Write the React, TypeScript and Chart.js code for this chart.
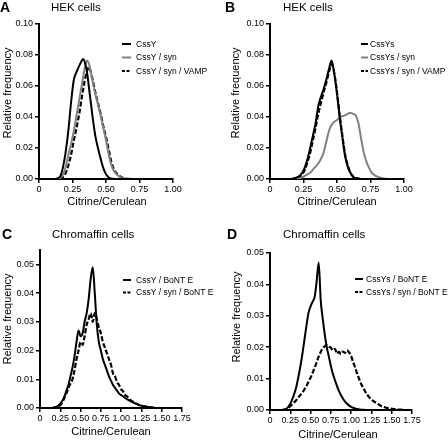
import React, { useEffect, useRef } from 'react';
import { Chart, registerables } from 'chart.js';
Chart.register(...registerables);

const REG = "'Liberation Sans', Arial, Helvetica, sans-serif";

// ---------- Panel A : HEK cells ----------
const aX = [0.10, 0.12, 0.14, 0.16, 0.18, 0.20, 0.22, 0.24, 0.26, 0.28, 0.30, 0.32, 0.33, 0.34, 0.36, 0.37, 0.38, 0.40, 0.42, 0.44, 0.46, 0.48, 0.50, 0.52, 0.54, 0.56, 0.58, 0.60, 0.62, 0.64, 0.66, 0.70];
const aCssY = [0, 0, 0.0005, 0.002, 0.008, 0.018, 0.032, 0.050, 0.064, 0.069, 0.073, 0.0765, 0.0775, 0.076, 0.068, 0.061, 0.054, 0.040, 0.028, 0.020, 0.013, 0.007, 0.003, 0.001, 0.0003, 0, 0, 0, 0, 0, 0, 0];
const aSyn = [0, 0, 0, 0.0008, 0.003, 0.008, 0.016, 0.023, 0.031, 0.041, 0.051, 0.061, 0.066, 0.071, 0.0765, 0.075, 0.072, 0.063, 0.055, 0.048, 0.041, 0.033, 0.025, 0.016, 0.009, 0.005, 0.003, 0.0015, 0.0008, 0.0003, 0, 0];
const aVamp = [0, 0, 0, 0.0003, 0.0015, 0.004, 0.009, 0.016, 0.025, 0.033, 0.042, 0.053, 0.058, 0.063, 0.070, 0.072, 0.071, 0.064, 0.056, 0.049, 0.042, 0.034, 0.027, 0.019, 0.011, 0.006, 0.0035, 0.002, 0.001, 0.0004, 0.0001, 0];

// ---------- Panel B : HEK cells ----------
const bX = [0.10, 0.12, 0.14, 0.16, 0.18, 0.20, 0.22, 0.24, 0.26, 0.28, 0.30, 0.32, 0.34, 0.36, 0.38, 0.40, 0.42, 0.44, 0.46, 0.48, 0.50, 0.52, 0.54, 0.56, 0.58, 0.60, 0.62, 0.64, 0.66, 0.68, 0.70, 0.72, 0.74, 0.76, 0.78, 0.80, 0.82, 0.84, 0.86, 0.88, 0.90];
const bCssYs = [0, 0, 0, 0, 0.0003, 0.001, 0.002, 0.004, 0.0075, 0.013, 0.020, 0.028, 0.036, 0.047, 0.053, 0.058, 0.064, 0.071, 0.0765, 0.068, 0.055, 0.040, 0.027, 0.015, 0.008, 0.004, 0.0015, 0.0005, 0.0001, 0, 0, 0, 0, 0, 0, 0, 0, 0, 0, 0, 0];
const bSyn = [0, 0, 0, 0, 0, 0, 0.0003, 0.001, 0.002, 0.003, 0.004, 0.006, 0.008, 0.010, 0.013, 0.017, 0.024, 0.031, 0.035, 0.037, 0.038, 0.040, 0.0405, 0.041, 0.042, 0.0428, 0.042, 0.041, 0.036, 0.026, 0.017, 0.011, 0.007, 0.004, 0.0025, 0.0015, 0.001, 0.0005, 0.0002, 0, 0];
const bVamp = [0, 0, 0, 0, 0.0002, 0.0007, 0.0015, 0.003, 0.006, 0.011, 0.017, 0.025, 0.033, 0.042, 0.049, 0.056, 0.062, 0.069, 0.074, 0.068, 0.056, 0.041, 0.028, 0.016, 0.009, 0.004, 0.0017, 0.0006, 0.0002, 0, 0, 0, 0, 0, 0, 0, 0, 0, 0, 0, 0];

// ---------- Panel C : Chromaffin cells ----------
const cX = [0.150, 0.175, 0.200, 0.225, 0.250, 0.275, 0.300, 0.325, 0.350, 0.375, 0.400, 0.425, 0.450, 0.475, 0.500, 0.525, 0.550, 0.575, 0.600, 0.625, 0.650, 0.675, 0.700, 0.725, 0.750, 0.775, 0.800, 0.825, 0.850, 0.875, 0.900, 0.925, 0.950, 0.975, 1.000, 1.025, 1.050, 1.075, 1.100, 1.125, 1.150, 1.175, 1.200, 1.225, 1.250, 1.275, 1.300, 1.325, 1.350, 1.375, 1.400, 1.425, 1.450];
const cCssY = [0, 0.0002, 0.0004, 0.0008, 0.0015, 0.0025, 0.004, 0.006, 0.008, 0.011, 0.014, 0.018, 0.023, 0.027, 0.025, 0.026, 0.030, 0.033, 0.038, 0.045, 0.049, 0.040, 0.029, 0.023, 0.020, 0.017, 0.015, 0.013, 0.011, 0.0095, 0.008, 0.007, 0.006, 0.005, 0.0045, 0.004, 0.0035, 0.003, 0.0026, 0.0022, 0.0019, 0.0016, 0.0013, 0.001, 0.0008, 0.0006, 0.0005, 0.0004, 0.0003, 0.0002, 0.0001, 0, 0];
const cSyn = [0, 0.0001, 0.0003, 0.0006, 0.001, 0.002, 0.0035, 0.005, 0.007, 0.0085, 0.010, 0.013, 0.017, 0.020, 0.023, 0.022, 0.025, 0.029, 0.031, 0.033, 0.030, 0.033, 0.031, 0.028, 0.026, 0.023, 0.021, 0.019, 0.017, 0.015, 0.012, 0.011, 0.009, 0.008, 0.0065, 0.0058, 0.0045, 0.004, 0.0032, 0.0025, 0.0022, 0.0016, 0.0014, 0.001, 0.0008, 0.0006, 0.0005, 0.0003, 0.0002, 0.0001, 0.0001, 0, 0];

// ---------- Panel D : Chromaffin cells ----------
const dX = [0.150, 0.175, 0.200, 0.225, 0.250, 0.275, 0.300, 0.325, 0.350, 0.375, 0.400, 0.425, 0.450, 0.475, 0.500, 0.525, 0.550, 0.575, 0.600, 0.625, 0.650, 0.675, 0.700, 0.725, 0.750, 0.775, 0.800, 0.825, 0.850, 0.875, 0.900, 0.925, 0.950, 0.975, 1.000, 1.025, 1.050, 1.075, 1.100, 1.125, 1.150, 1.175, 1.200, 1.225, 1.250, 1.275, 1.300, 1.325, 1.350, 1.375, 1.400, 1.425, 1.450, 1.475, 1.500, 1.525, 1.550, 1.575, 1.600, 1.625, 1.650];
const dCssYs = [0, 0.0001, 0.0004, 0.001, 0.002, 0.0035, 0.0052, 0.0075, 0.0105, 0.014, 0.018, 0.0225, 0.027, 0.031, 0.033, 0.0345, 0.036, 0.041, 0.047, 0.035, 0.029, 0.024, 0.020, 0.017, 0.014, 0.0115, 0.0095, 0.0077, 0.006, 0.0047, 0.0036, 0.0027, 0.002, 0.0014, 0.001, 0.0007, 0.0005, 0.0003, 0.0002, 0.0001, 0.0001, 0, 0, 0, 0, 0, 0, 0, 0, 0, 0, 0, 0, 0, 0, 0, 0, 0, 0, 0, 0];
const dSyn = [0, 0.0001, 0.0003, 0.0007, 0.0012, 0.0018, 0.0025, 0.0032, 0.004, 0.0048, 0.0056, 0.0066, 0.0077, 0.009, 0.0103, 0.0118, 0.0135, 0.0152, 0.017, 0.0185, 0.0197, 0.0203, 0.0207, 0.0202, 0.0198, 0.019, 0.0195, 0.018, 0.0185, 0.0178, 0.0186, 0.0182, 0.019, 0.0183, 0.0172, 0.0152, 0.0135, 0.0115, 0.0098, 0.0082, 0.007, 0.0058, 0.0048, 0.004, 0.0034, 0.0028, 0.0024, 0.002, 0.0016, 0.0012, 0.001, 0.0008, 0.0006, 0.0005, 0.0004, 0.0003, 0.0003, 0.0002, 0.0001, 0.0001, 0];

// ---------- ticks ----------
const xTicksHek = [0, 0.25, 0.5, 0.75, 1.0];
const yTicksHek = [0, 0.02, 0.04, 0.06, 0.08, 0.10];
const xTicksChr = [0, 0.25, 0.5, 0.75, 1.0, 1.25, 1.5, 1.75];
const yTicksChr = [0, 0.01, 0.02, 0.03, 0.04, 0.05];

const BLACK = '#000000';
const GRAY = '#808080';
const DASH = [5, 2];

type Series = { label: string; xs: number[]; ys: number[]; color: string; dash: number[] };
type Panel = {
  letter: string; title: string;
  left: number; top: number; w: number; h: number;
  area: { l: number; r: number; t: number; b: number };
  xMax: number; xTicks: number[]; yMax: number; yTicks: number[];
  series: Series[];
  legend: { x0: number; x1: number; tx: number; ys: number[] };
  yTitle: { x: number; y: number }; xTitle: { x: number; y: number };
  letterPos: { x: number; y: number }; titlePos: { x: number; y: number };
};

const panels: Panel[] = [
  {
    letter: 'A', title: 'HEK cells', left: 0, top: 0, w: 224, h: 222,
    area: { l: 39, r: 173, t: 24, b: 179 },
    xMax: 1.0, xTicks: xTicksHek, yMax: 0.10, yTicks: yTicksHek,
    series: [
      { label: 'CssY', xs: aX, ys: aCssY, color: BLACK, dash: [] },
      { label: 'CssY / syn', xs: aX, ys: aSyn, color: GRAY, dash: [] },
      { label: 'CssY / syn / VAMP', xs: aX, ys: aVamp, color: BLACK, dash: DASH },
    ],
    legend: { x0: 122, x1: 131, tx: 136, ys: [44, 57.5, 71] },
    yTitle: { x: 7.5, y: 93 }, xTitle: { x: 107, y: 202 },
    letterPos: { x: 0, y: 12 }, titlePos: { x: 51, y: 11 },
  },
  {
    letter: 'B', title: 'HEK cells', left: 224, top: 0, w: 224, h: 222,
    area: { l: 46, r: 180, t: 24, b: 179 },
    xMax: 1.0, xTicks: xTicksHek, yMax: 0.10, yTicks: yTicksHek,
    series: [
      { label: 'CssYs', xs: bX, ys: bCssYs, color: BLACK, dash: [] },
      { label: 'CssYs / syn', xs: bX, ys: bSyn, color: GRAY, dash: [] },
      { label: 'CssYs / syn / VAMP', xs: bX, ys: bVamp, color: BLACK, dash: DASH },
    ],
    legend: { x0: 137, x1: 144, tx: 146, ys: [44, 57.5, 71] },
    yTitle: { x: 12, y: 93 }, xTitle: { x: 113, y: 202 },
    letterPos: { x: 1, y: 12 }, titlePos: { x: 59, y: 11 },
  },
  {
    letter: 'C', title: 'Chromaffin cells', left: 0, top: 222, w: 224, h: 221,
    area: { l: 40, r: 182, t: 28, b: 186 },
    xMax: 1.75, xTicks: xTicksChr, yMax: 0.055, yTicks: yTicksChr,
    series: [
      { label: 'CssY / BoNT E', xs: cX, ys: cCssY, color: BLACK, dash: [] },
      { label: 'CssY / syn / BoNT E', xs: cX, ys: cSyn, color: BLACK, dash: DASH },
    ],
    legend: { x0: 123, x1: 131, tx: 136, ys: [58, 70.5] },
    yTitle: { x: 7.5, y: 97 }, xTitle: { x: 111, y: 210 },
    letterPos: { x: 2, y: 17 }, titlePos: { x: 52, y: 16 },
  },
  {
    letter: 'D', title: 'Chromaffin cells', left: 224, top: 222, w: 224, h: 221,
    area: { l: 46, r: 188, t: 31, b: 188 },
    xMax: 1.75, xTicks: xTicksChr, yMax: 0.05, yTicks: yTicksChr,
    series: [
      { label: 'CssYs / BoNT E', xs: dX, ys: dCssYs, color: BLACK, dash: [] },
      { label: 'CssYs / syn / BoNT E', xs: dX, ys: dSyn, color: BLACK, dash: DASH },
    ],
    legend: { x0: 131, x1: 139, tx: 142, ys: [57, 70] },
    yTitle: { x: 13, y: 95 }, xTitle: { x: 114, y: 213 },
    letterPos: { x: 3, y: 17 }, titlePos: { x: 59, y: 16 },
  },
];

const annotPlugin = {
  id: 'annot',
  afterDraw(chart: any, _args: any, opts: any) {
    const p: Panel = opts.panel;
    if (!p) return;
    const ctx = chart.ctx;
    ctx.save();
    ctx.fillStyle = '#000';
    ctx.textBaseline = 'alphabetic';
    ctx.textAlign = 'left';
    ctx.font = `bold 14px ${REG}`;
    ctx.fillText(p.letter, p.letterPos.x, p.letterPos.y);
    ctx.font = `11.5px ${REG}`;
    ctx.fillText(p.title, p.titlePos.x, p.titlePos.y);
    // axis titles
    ctx.font = `11px ${REG}`;
    ctx.textAlign = 'center';
    ctx.textBaseline = 'middle';
    ctx.fillText('Citrine/Cerulean', p.xTitle.x, p.xTitle.y);
    ctx.save();
    ctx.translate(p.yTitle.x, p.yTitle.y);
    ctx.rotate(-Math.PI / 2);
    ctx.fillText('Relative frequency', 0, 0);
    ctx.restore();
    // legend
    ctx.font = `8.5px ${REG}`;
    ctx.textAlign = 'left';
    p.series.forEach((s, i) => {
      const y = p.legend.ys[i];
      ctx.beginPath();
      ctx.lineWidth = 2;
      ctx.strokeStyle = s.color;
      ctx.setLineDash(s.dash.length ? [3, 1.5] : []);
      ctx.moveTo(p.legend.x0, y);
      ctx.lineTo(p.legend.x1, y);
      ctx.stroke();
      ctx.setLineDash([]);
      ctx.fillText(s.label, p.legend.tx, y + 0.5);
    });
    ctx.restore();
  },
};

function fmt(v: number) {
  return v === 0 ? '0' : v.toFixed(2);
}

function PanelChart({ p }: { p: Panel }) {
  const ref = useRef<HTMLCanvasElement>(null);
  useEffect(() => {
    if (!ref.current) return;
    const chart = new Chart(ref.current, {
      type: 'line',
      data: {
        datasets: p.series.map((s) => ({
          label: s.label,
          data: s.xs.map((x, i) => ({ x, y: s.ys[i] })),
          borderColor: s.color,
          borderWidth: s.dash.length ? 2.2 : 2,
          borderDash: s.dash,
          pointRadius: 0,
          fill: false,
          cubicInterpolationMode: 'monotone' as const,
        })),
      },
      options: {
        animation: false,
        responsive: false,
        devicePixelRatio: 1,
        events: [],
        layout: { padding: { left: 0, right: p.w - p.area.r, top: p.area.t, bottom: 0 } },
        plugins: {
          legend: { display: false },
          tooltip: { enabled: false },
          annot: { panel: p },
        } as any,
        scales: {
          x: {
            type: 'linear',
            min: 0,
            max: p.xMax,
            afterFit: (s: any) => { s.height = p.h - p.area.b; },
            afterBuildTicks: (s: any) => { s.ticks = p.xTicks.map((v) => ({ value: v })); },
            grid: { drawOnChartArea: false, drawTicks: true, tickLength: 4, color: '#000', lineWidth: 1.5 },
            border: { display: true, color: '#000', width: 2 },
            ticks: {
              autoSkip: false, maxRotation: 0, minRotation: 0, padding: 1,
              color: '#000', font: { family: REG, size: 9 },
              callback: (v: any) => fmt(Number(v)),
            },
          },
          y: {
            type: 'linear',
            min: 0,
            max: p.yMax,
            afterFit: (s: any) => { s.width = p.area.l; },
            afterBuildTicks: (s: any) => { s.ticks = p.yTicks.map((v) => ({ value: v })); },
            grid: { drawOnChartArea: false, drawTicks: true, tickLength: 4, color: '#000', lineWidth: 1.5 },
            border: { display: true, color: '#000', width: 2 },
            ticks: {
              padding: 2, color: '#000', font: { family: REG, size: 9 },
              callback: (v: any) => Number(v).toFixed(2),
            },
          },
        },
      },
      plugins: [annotPlugin],
    } as any);
    return () => chart.destroy();
  }, [p]);
  return (
    <canvas
      ref={ref}
      width={p.w}
      height={p.h}
      style={{ position: 'absolute', left: p.left, top: p.top, width: p.w, height: p.h }}
    />
  );
}

export default function App() {
  return (
    <div style={{ position: 'absolute', left: 0, top: 0, width: 448, height: 443, background: '#fff', overflow: 'hidden' }}>
      {panels.map((p) => <PanelChart key={p.letter} p={p} />)}
    </div>
  );
}
